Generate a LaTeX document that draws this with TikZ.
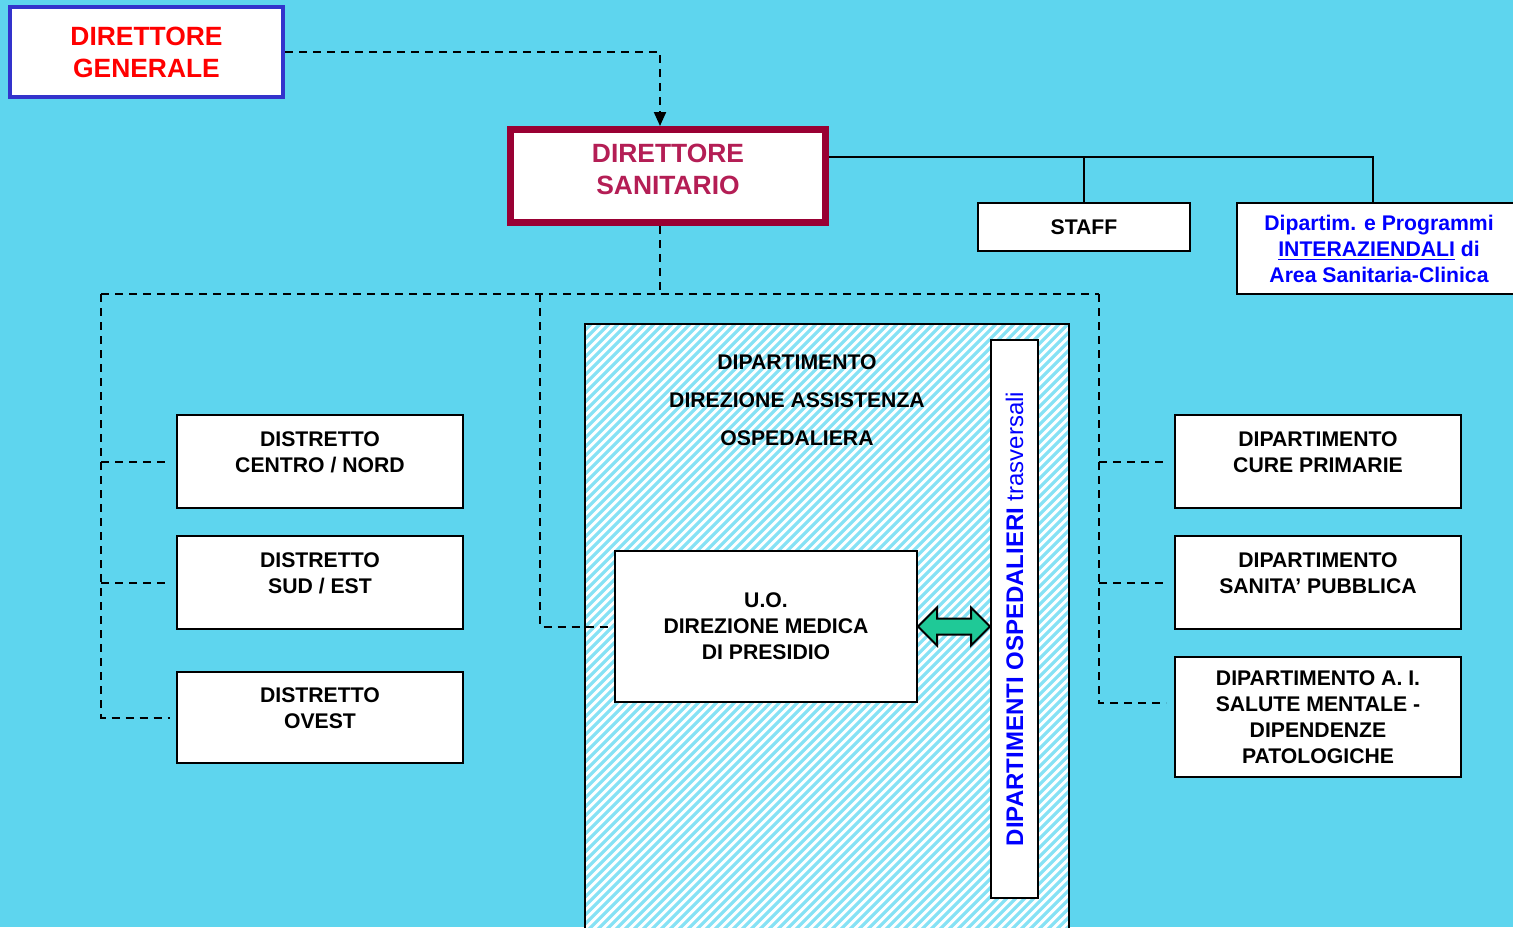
\documentclass[tikz,border=0pt]{standalone}
\usepackage{fontspec}
\setmainfont{Liberation Sans}
\usetikzlibrary{arrows.meta,shapes.arrows,calc}

\begin{document}
\begin{tikzpicture}[x=0.5pt,y=-0.5pt,
    box/.style={draw,fill=white,line width=1pt,align=center,inner sep=0pt,
        font=\bfseries\fontsize{10.6}{13}\selectfont},
    lifted/.style={text depth=9pt},
    dashLine/.style={line width=1pt,dash pattern=on 4pt off 3pt},
    hatchLine/.style={myHatch,line width=1.6pt}]
% Colors define
\definecolor{myCyan}{HTML}{5ED5EE}
\definecolor{myHatch}{HTML}{86E2F5}
\definecolor{myBlue}{HTML}{3333CC}
\definecolor{myCrimson}{HTML}{990033}
\definecolor{myRose}{HTML}{B41E55}
\definecolor{myGreen}{HTML}{1FC997}

% Background
\useasboundingbox (0,0) rectangle (1513,927);
\fill[myCyan] (0,0) rectangle (1513,927);

% Hatched department area
\fill[white] (585,324) rectangle (1069,960);
\begin{scope}
    \clip (585,324) rectangle (1069,960);
    \foreach \k in {-80,...,60}
        \draw[hatchLine] ({585+9*\k},960) -- ++(700,-700);
\end{scope}
\draw[line width=1pt] (585,324) rectangle (1069,960);
\node[align=center,font=\bfseries\fontsize{10.6}{19}\selectfont] (dao) at (797,400)
    {DIPARTIMENTO\\DIREZIONE ASSISTENZA\\OSPEDALIERA};

% Top boxes
\node[box,draw=myBlue,line width=2pt,text=red,minimum width=136.5pt,minimum height=45pt,
    font=\bfseries\fontsize{13.2}{16}\selectfont] (dg) at (146.5,52) {DIRETTORE\\GENERALE};
\node[box,draw=myCrimson,line width=3.5pt,text=myRose,minimum width=157.5pt,minimum height=46.5pt,
    text depth=7pt,font=\bfseries\fontsize{13.2}{16}\selectfont] (ds) at (668,176) {DIRETTORE\\SANITARIO};
\node[box,minimum width=106pt,minimum height=24pt] (staff) at (1084,227) {STAFF};
\node[box,text=blue,minimum width=142pt,minimum height=45.5pt,text depth=-3pt] (interaz) at (1379,248.5)
    {Dipartim. e Programmi\\\underline{INTERAZIENDALI} di\\Area Sanitaria-Clinica};

% Districts
\node[box,lifted,minimum width=143pt,minimum height=46.5pt] (d1) at (320,461.5) {DISTRETTO\\CENTRO / NORD};
\node[box,lifted,minimum width=143pt,minimum height=46.5pt] (d2) at (320,582.5) {DISTRETTO\\SUD / EST};
\node[box,lifted,minimum width=143pt,minimum height=45.5pt] (d3) at (320,717.5) {DISTRETTO\\OVEST};

% Departments
\node[box,lifted,minimum width=143pt,minimum height=46.5pt] (p1) at (1318,461.5) {DIPARTIMENTO\\CURE PRIMARIE};
\node[box,lifted,minimum width=143pt,minimum height=46.5pt] (p2) at (1318,582.5) {DIPARTIMENTO\\SANITA' PUBBLICA};
\node[box,minimum width=143pt,minimum height=60pt,text depth=-3pt] (p3) at (1318,717)
    {DIPARTIMENTO A. I.\\SALUTE MENTALE -\\DIPENDENZE\\PATOLOGICHE};

% Inside the hatched area
\node[box,minimum width=151pt,minimum height=75.5pt] (uo) at (766,626.5)
    {U.O.\\DIREZIONE MEDICA\\DI PRESIDIO};
\node[box,rotate=90,text=blue,minimum width=279pt,minimum height=23.5pt,
    font=\fontsize{12}{14}\selectfont] (vert) at (1014.5,619)
    {\textbf{DIPARTIMENTI OSPEDALIERI} trasversali};
\node[double arrow,draw,fill=myGreen,line width=1pt,inner sep=3.5pt,
    double arrow head extend=5.5pt,minimum height=36pt] (link)
    at ($(uo.east)!0.5!(vert.north |- uo.east)$) {};

% Important positions
\coordinate (bus) at ([yshift=9.5pt]ds.east);
\coordinate (split) at (660,294);
\coordinate (lbus) at (101,294);
\coordinate (mbus) at (540,294);
\coordinate (rbus) at (1099,294);

% Solid lines to staff
\draw[line width=1pt] (bus) -| ([xshift=-3pt]interaz.north);
\draw[line width=1pt] (staff.north) -- (staff.north |- bus);

% Dashed lines
\draw[dashLine,-{Triangle[length=7pt,width=6pt]}] (dg.east) -| ([xshift=-4pt]ds.north);
\draw[dashLine] ([xshift=-4pt]ds.south) -- (split);
\draw[dashLine] (lbus) -- (rbus);
\draw[dashLine,shorten >=3pt] (lbus) |- (d3.west);
\draw[dashLine,shorten >=3pt] (lbus |- d1.west) -- (d1.west);
\draw[dashLine,shorten >=3pt] (lbus |- d2.west) -- (d2.west);
\draw[dashLine,shorten >=3pt] (mbus) |- (uo.west);
\draw[dashLine,shorten >=4pt] (rbus) |- ([yshift=7pt]p3.west);
\draw[dashLine,shorten >=4pt] (rbus |- p1.west) -- (p1.west);
\draw[dashLine,shorten >=4pt] (rbus |- p2.west) -- (p2.west);
\end{tikzpicture}
\end{document}
